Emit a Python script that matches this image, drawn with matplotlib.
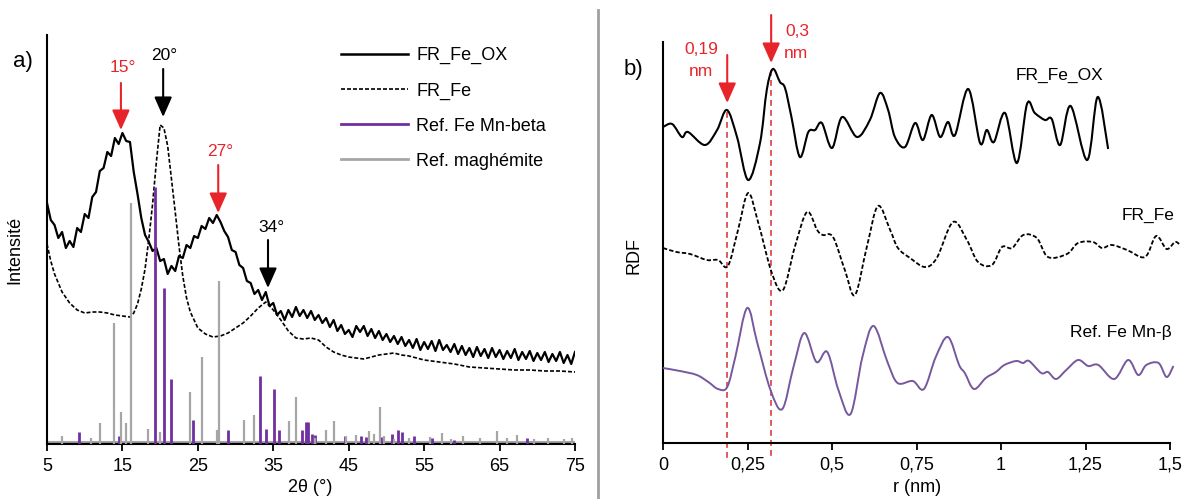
import numpy as np
import matplotlib
matplotlib.use('Agg')
import matplotlib.pyplot as plt
from matplotlib.lines import Line2D
from matplotlib.path import Path
from matplotlib.patches import PathPatch

plt.rcParams['font.family'] = ['Liberation Sans', 'DejaVu Sans']

# ---------- a) XRD patterns (intensity in arbitrary units) ----------
# FR_Fe_OX, every 0.5 deg from 5 to 75
ox_y = [241, 224, 219, 206, 212, 196, 203, 197, 216, 212,
        230, 226, 247, 252, 273, 276, 292, 288, 306, 300,
        311, 303, 302, 272, 250, 226, 209, 202, 193, 196,
        183, 185, 170, 178, 173, 188, 186, 199, 196, 208,
        206, 218, 215, 226, 221, 229, 222, 213, 207, 194,
        192, 179, 176, 163, 161, 150, 154, 144, 152, 138,
        141, 129, 133, 124, 134, 127, 137, 128, 134, 126,
        133, 124, 129, 121, 126, 117, 124, 113, 119, 110,
        114, 107, 118, 112, 118, 108, 115, 106, 113, 104,
        110, 102, 108, 100, 107, 98, 104, 96, 105, 94,
        102, 95, 103, 93, 104, 94, 99, 92, 100, 90,
        98, 89, 96, 87, 97, 88, 95, 86, 96, 87,
        94, 85, 93, 86, 95, 84, 92, 85, 93, 83,
        91, 84, 92, 82, 90, 83, 92, 81, 89, 80,
        92]
ox_x = np.linspace(5, 75, len(ox_y))

# FR_Fe
fe_x = [5, 5.5, 6, 7, 8, 9, 10, 11, 12, 13, 14, 15, 16,
        16.5, 17, 17.5, 18, 18.5, 19, 19.5, 20, 20.5, 21, 21.5, 22, 22.5, 23, 23.5, 24,
        25, 26, 27, 28, 29, 30, 31, 32, 33, 34, 35, 36, 37, 38, 39, 40,
        41, 42, 43, 44, 45, 46, 47, 48, 49, 50, 51, 52, 53, 54, 55,
        57, 59, 61, 63, 65, 67, 69, 71, 73, 75]
fe_y = [200, 183, 170, 152, 141, 134, 131, 132, 132, 131, 129, 128, 127,
        131, 140, 155, 175, 205, 240, 282, 319, 316, 298, 265, 232, 198, 168, 146, 132,
        116, 110, 107, 108, 111, 116, 121, 128, 136, 142, 134, 124, 113, 106, 105, 106,
        104, 97, 92, 89, 87, 86, 85, 87, 89, 90, 91, 89, 88, 86, 84,
        82, 80, 77, 76, 75, 74, 74, 73, 73, 72]

# reference stick patterns
mag_x = [7.0, 10.8, 12.0, 13.9, 14.75, 15.5, 16.2, 18.4, 20.0, 24.0,
         25.6, 27.5, 27.8, 31.1, 32.4, 37.1, 38.0, 40.5, 42.0, 43.1,
         44.6, 46.0, 47.7, 48.3, 49.1, 49.7, 51.0, 53.0, 55.8, 57.4,
         58.6, 60.2, 62.4, 64.7, 66.0, 67.3, 69.5, 71.4, 73.5, 74.6]
mag_h = [8, 6, 21, 121, 32, 21, 241, 15, 12, 52,
         87, 14, 163, 24, 29, 23, 47, 6, 14, 23,
         7, 9, 13, 10, 37, 8, 5, 6, 7, 11,
         5, 8, 6, 13, 6, 9, 5, 6, 5, 6]
mnb_x = [9.2, 14.5, 19.3, 20.5, 21.5, 24.3, 29.0, 33.3, 34.0, 35.1,
         35.7, 38.8, 39.3, 39.6, 40.1, 40.5, 44.5, 46.6, 47.3, 49.3,
         50.7, 51.6, 52.1, 53.6, 56.0, 58.9, 68.7]
mnb_h = [12, 8, 257, 156, 65, 24, 14, 68, 15, 55,
         14, 14, 22, 22, 10, 9, 8, 8, 7, 7,
         10, 14, 12, 8, 6, 4, 6]

xrd_ticks = [5, 15, 25, 35, 45, 55, 65, 75]

# ---------- b) RDF curves ----------
ox_r = [0, .027, .056, .074, .124, .16, .189, .219, .252, .287,
        .307, .325, .346, .361, .38, .405, .43, .45, .47, .5,
        .53, .574, .612, .642, .666, .686, .716, .746, .769, .795,
        .82, .843, .864, .903, .938, .958, .979, 1.012, 1.047, 1.077,
        1.1, 1.13, 1.15, 1.175, 1.206, 1.255, 1.286, 1.317]
ox_g = [316, 319, 306, 311, 298, 313, 333, 306, 263, 300,
        353, 374, 361, 355, 326, 286, 311, 313, 320, 295,
        326, 306, 323, 350, 333, 306, 296, 320, 303, 328,
        306, 321, 308, 354, 300, 313, 301, 330, 280, 339,
        330, 323, 324, 298, 337, 283, 346, 294]

fe_r = [0, .04, .08, .13, .163, .192, .222, .252, .282, .322,
        .355, .39, .426, .456, .473, .503, .538, .568, .603, .636,
        .672, .695, .731, .775, .81, .858, .899, .932, .973, 1.003,
        1.033, 1.066, 1.106, 1.139, 1.195, 1.228, 1.272, 1.299, 1.328, 1.373,
        1.426, 1.459, 1.49, 1.515, 1.53]
fe_g = [195, 191, 189, 183, 183, 177, 213, 250, 220, 170,
        153, 196, 231, 213, 208, 206, 173, 148, 196, 237,
        213, 195, 185, 176, 185, 221, 203, 181, 178, 196,
        195, 208, 205, 186, 189, 200, 201, 195, 198, 193,
        186, 207, 194, 201, 198]

mn_r = [0, .05, .1, .134, .163, .19, .214, .249, .279, .318,
        .353, .386, .418, .454, .486, .519, .555, .59, .623, .664,
        .694, .739, .772, .807, .843, .876, .893, .92, .955, .985,
        1.01, 1.045, 1.065, 1.083, 1.119, 1.139, 1.163, 1.193, 1.228, 1.258,
        1.288, 1.335, 1.376, 1.406, 1.43, 1.466, 1.49, 1.51]
mn_g = [75, 72, 68, 61, 54, 56, 86, 135, 100, 53,
        34, 76, 110, 81, 91, 53, 29, 86, 117, 81,
        60, 62, 54, 86, 106, 78, 70, 54, 65, 71,
        78, 82, 80, 82, 70, 71, 64, 73, 83, 77,
        78, 64, 83, 68, 78, 80, 66, 77]

rdf_ticks = [0, 0.25, 0.5, 0.75, 1, 1.25, 1.5]
rdf_labels = ['0', '0,25', '0,5', '0,75', '1', '1,25', '1,5']

RED = '#E8242B'
PURPLE = '#7030A0'
LAVENDER = '#76589E'
GREY = '#A6A6A6'
DASH = (0, (2.4, 1.2))

W, H = 1192, 499
fig = plt.figure(figsize=(W / 100, H / 100), dpi=100)
ax1 = fig.add_axes([47 / W, 1 - 444 / H, 528 / W, 409 / H])
ax2 = fig.add_axes([663 / W, 1 - 443 / H, 507 / W, 401 / H])


def arrow(ax, x, y0, y1, color):
    ax.annotate('', xy=(x, y1), xytext=(x, y0), annotation_clip=False,
                arrowprops=dict(arrowstyle='-|>,head_length=1.22,head_width=0.54',
                                color=color, lw=1.5, shrinkA=0, shrinkB=0,
                                mutation_scale=10))


def smooth_line(ax, x, y, **kw):
    # draw the read points joined by a smooth bezier path (Catmull-Rom)
    p = np.column_stack([x, y]).astype(float)
    verts, codes = [p[0]], [Path.MOVETO]
    n = len(p)
    for i in range(n - 1):
        a, b, c, d = p[max(i - 1, 0)], p[i], p[i + 1], p[min(i + 2, n - 1)]
        verts += [b + (c - a) / 6, c - (d - b) / 6, c]
        codes += [Path.CURVE4] * 3
    ax.add_patch(PathPatch(Path(verts, codes), fill=False, **kw))


for ax in (ax1, ax2):
    for s in ('top', 'right'):
        ax.spines[s].set_visible(False)
    for s in ('left', 'bottom'):
        ax.spines[s].set_linewidth(1.5)
    ax.set_yticks([])
    ax.tick_params(axis='x', direction='out', length=5, width=1.3,
                   labelsize=13, pad=5)

# ---- panel a ----
ax1.plot(ox_x, ox_y, color='k', lw=1.6, zorder=3)
ax1.plot(fe_x, fe_y, color='k', lw=1.2, ls=DASH, zorder=3)
ax1.axhline(2, color=GREY, lw=1.5, zorder=2)
ax1.axhline(1, color=PURPLE, lw=1, alpha=0.6, zorder=2)
ax1.vlines(mnb_x, 0, mnb_h, color=PURPLE, lw=2.0, zorder=4)
ax1.vlines(mag_x, 0, mag_h, color=GREY, lw=1.6, zorder=4)
ax1.set_xlim(5, 75)
ax1.set_ylim(0, 409)
ax1.set_xticks(xrd_ticks)

handles = [Line2D([], [], color='k', lw=1.8),
           Line2D([], [], color='k', lw=1.2, ls=DASH),
           Line2D([], [], color=PURPLE, lw=2),
           Line2D([], [], color=GREY, lw=2)]
ax1.legend(handles, ['FR_Fe_OX', 'FR_Fe', 'Ref. Fe Mn-beta', 'Ref. maghémite'],
           loc='upper left', bbox_to_anchor=(0.557, 0.970), frameon=False,
           fontsize=13, handlelength=3.7, handletextpad=0.45,
           labelspacing=1.0, borderpad=0, borderaxespad=0)

ax1.text(15.1, 377, '15°', color=RED, fontsize=12.5, ha='center', va='center')
arrow(ax1, 14.8, 361, 314, RED)
ax1.text(20.5, 389, '20°', color='k', fontsize=12.5, ha='center', va='center')
arrow(ax1, 20.4, 375, 327, 'k')
ax1.text(27.9, 292, '27°', color=RED, fontsize=12.5, ha='center', va='center')
arrow(ax1, 27.7, 279, 231, RED)
ax1.text(34.8, 217, '34°', color='k', fontsize=12.5, ha='center', va='center')
arrow(ax1, 34.3, 204, 156, 'k')

# ---- panel b ----
smooth_line(ax2, ox_r, ox_g, edgecolor='k', lw=1.5, zorder=3)
smooth_line(ax2, fe_r, fe_g, edgecolor='k', lw=1.3, ls=DASH, zorder=3, clip_on=False)
smooth_line(ax2, mn_r, mn_g, edgecolor=LAVENDER, lw=1.4, zorder=3, clip_on=False)
ax2.set_xlim(0, 1.5)
ax2.set_ylim(0, 401)
ax2.set_xticks(rdf_ticks)
ax2.set_xticklabels(rdf_labels)

ax2.plot([0.19, 0.19], [331, -15], color='#DC3C3C', lw=1.2,
         ls=(0, (3.5, 2.5)), clip_on=False, zorder=2)
ax2.plot([0.32, 0.32], [373, -15], color='#DC3C3C', lw=1.2,
         ls=(0, (3.5, 2.5)), clip_on=False, zorder=2)
arrow(ax2, 0.19, 388, 340, RED)
arrow(ax2, 0.32, 428, 380, RED)
ax2.text(0.113, 393, '0,19', color=RED, fontsize=12.5, ha='center', va='center')
ax2.text(0.113, 371, 'nm', color=RED, fontsize=12.5, ha='center', va='center')
ax2.text(0.398, 411, '0,3', color=RED, fontsize=12.5, ha='center', va='center')
ax2.text(0.392, 389, 'nm', color=RED, fontsize=12.5, ha='center', va='center')

ax2.text(1.172, 368, 'FR_Fe_OX', fontsize=12.5, ha='center', va='center')
ax2.text(1.513, 228, 'FR_Fe', fontsize=12.5, ha='right', va='center')
ax2.text(1.504, 110, 'Ref. Fe Mn-β', fontsize=12.5, ha='right', va='center')

# labels and panel letters
fig.text(23 / W, 1 - 62 / H, 'a)', fontsize=16, ha='center', va='center')
fig.text(633 / W, 1 - 70 / H, 'b)', fontsize=16, ha='center', va='center')
fig.text(15 / W, 1 - 250 / H, 'Intensité', fontsize=13, rotation=90,
         ha='center', va='center')
fig.text(634 / W, 1 - 255 / H, 'RDF', fontsize=13, rotation=90,
         ha='center', va='center')
fig.text(310 / W, 1 - 488 / H, '2θ (°)', fontsize=13, ha='center', va='center')
fig.text(917 / W, 1 - 488 / H, 'r (nm)', fontsize=13, ha='center', va='center')

fig.add_artist(Line2D([598 / W, 598 / W], [0, 1 - 10 / H], color='#A0A0A0',
                      lw=2, transform=fig.transFigure))

fig.savefig('out.png', dpi=100)
